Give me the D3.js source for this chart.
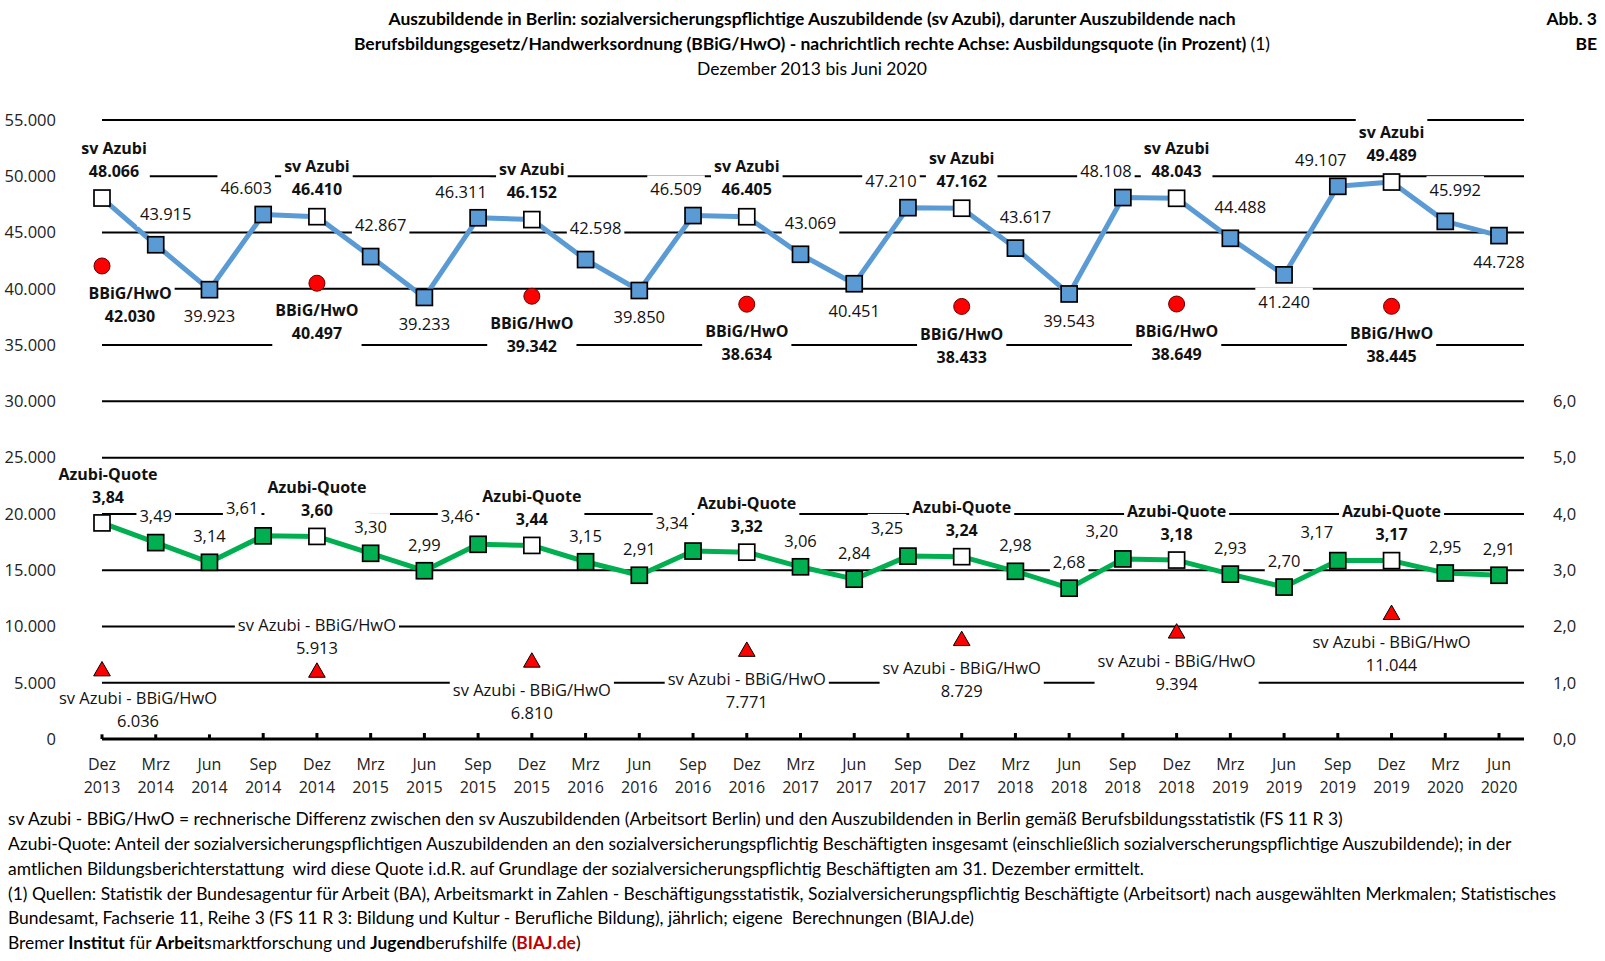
<!DOCTYPE html>
<html>
<head>
<meta charset="utf-8">
<script src="https://cdn.jsdelivr.net/npm/d3@7"></script>
<style>
  body { margin: 0; background: #fff; }
  svg { display: block; }
</style>
</head>
<body>
<svg id="chart"></svg>
<script>
// categories (quarters)
const periods = [
  "Dez 2013", "Mrz 2014", "Jun 2014", "Sep 2014", "Dez 2014", "Mrz 2015", "Jun 2015",
  "Sep 2015", "Dez 2015", "Mrz 2016", "Jun 2016", "Sep 2016", "Dez 2016", "Mrz 2017",
  "Jun 2017", "Sep 2017", "Dez 2017", "Mrz 2018", "Jun 2018", "Sep 2018", "Dez 2018",
  "Mrz 2019", "Jun 2019", "Sep 2019", "Dez 2019", "Mrz 2020", "Jun 2020"
];
// sozialversicherungspflichtige Auszubildende
const svAzubi = [
  48066, 43915, 39923, 46603, 46410, 42867, 39233, 46311, 46152, 42598, 39850, 46509,
  46405, 43069, 40451, 47210, 47162, 43617, 39543, 48108, 48043, 44488, 41240, 49107,
  49489, 45992, 44728
];
// Ausbildungsquote in Prozent (rechte Achse)
const azubiQuote = [
  3.84, 3.49, 3.14, 3.61, 3.60, 3.30, 2.99, 3.46, 3.44, 3.15, 2.91, 3.34, 3.32, 3.06,
  2.84, 3.25, 3.24, 2.98, 2.68, 3.20, 3.18, 2.93, 2.70, 3.17, 3.17, 2.95, 2.91
];
// nur Dezember: Berufsbildungsstatistik
const dezPeriods = ["Dez 2013", "Dez 2014", "Dez 2015", "Dez 2016", "Dez 2017", "Dez 2018", "Dez 2019"];
const bbigHwo = [42030, 40497, 39342, 38634, 38433, 38649, 38445];
const diffSvBbig = [6036, 5913, 6810, 7771, 8729, 9394, 11044];

const leftTicks = [0, 5000, 10000, 15000, 20000, 25000, 30000, 35000, 40000, 45000, 50000, 55000];
const rightTicks = [0, 1, 2, 3, 4, 5, 6];

const W = 1605, H = 961;
const de = d3.formatLocale({ decimal: ",", thousands: ".", grouping: [3], currency: ["", " €"] });
const fmtInt = de.format(",.0f");
const fmt1 = de.format(",.1f");
const fmt2 = de.format(",.2f");

const svg = d3.select("#chart").attr("width", W).attr("height", H);

const x = d3.scalePoint().domain(periods).range([102, 1499]);
const y = d3.scaleLinear().domain([0, 55000]).range([739, 120]);
const yR = d3.scaleLinear().domain([0, 11]).range([739, 120]);
const gridX0 = 102, gridX1 = 1524;

const labelFont = "'Open Sans', 'DejaVu Sans', sans-serif";
const textFont = "Lato, 'Liberation Sans', sans-serif";

// title
const title = svg.append("g").attr("font-family", textFont).attr("fill", "#000")
  .attr("text-anchor", "middle").attr("font-size", 17.5);
title.append("text").attr("x", 812).attr("y", 18.5).attr("dy", "0.35em").attr("font-weight", "bold")
  .text("Auszubildende in Berlin: sozialversicherungspflichtige Auszubildende (sv Azubi), darunter Auszubildende nach");
const t2 = title.append("text").attr("x", 812).attr("y", 44).attr("dy", "0.35em");
t2.append("tspan").attr("font-weight", "bold")
  .text("Berufsbildungsgesetz/Handwerksordnung (BBiG/HwO) - nachrichtlich rechte Achse: Ausbildungsquote (in Prozent) ");
t2.append("tspan").text("(1)");
title.append("text").attr("x", 812).attr("y", 68.5).attr("dy", "0.35em")
  .text("Dezember 2013 bis Juni 2020");

svg.append("text").attr("x", 1597).attr("y", 18.5).attr("dy", "0.35em").attr("text-anchor", "end")
  .attr("font-family", textFont).attr("font-weight", "bold").attr("font-size", 17.5).text("Abb. 3");
svg.append("text").attr("x", 1597).attr("y", 44).attr("dy", "0.35em").attr("text-anchor", "end")
  .attr("font-family", textFont).attr("font-weight", "bold").attr("font-size", 17.5).text("BE");

// gridlines
svg.append("g").selectAll("line").data(leftTicks.filter(d => d > 0)).join("line")
  .attr("x1", gridX0).attr("x2", gridX1)
  .attr("y1", d => y(d)).attr("y2", d => y(d))
  .attr("stroke", "#000").attr("stroke-width", 2);

// left axis labels
svg.append("g").attr("font-family", labelFont).attr("font-size", 16.5).attr("fill", "#222")
  .selectAll("text").data(leftTicks).join("text")
  .attr("x", 56).attr("y", d => y(d)).attr("dy", "0.35em").attr("text-anchor", "end")
  .text(d => fmtInt(d));

// right axis labels
svg.append("g").attr("font-family", labelFont).attr("font-size", 16.5).attr("fill", "#222")
  .selectAll("text").data(rightTicks).join("text")
  .attr("x", 1553).attr("y", d => yR(d)).attr("dy", "0.35em")
  .text(d => fmt1(d));

// x axis
const xAxis = svg.append("g");
xAxis.append("line").attr("x1", gridX0).attr("x2", gridX1).attr("y1", y(0)).attr("y2", y(0))
  .attr("stroke", "#000").attr("stroke-width", 3);
xAxis.selectAll(".tick").data(periods).join("line")
  .attr("x1", d => x(d)).attr("x2", d => x(d)).attr("y1", y(0)).attr("y2", y(0) - 6)
  .attr("stroke", "#000").attr("stroke-width", 3);
const xl = xAxis.selectAll(".xl").data(periods).join("text")
  .attr("font-family", labelFont).attr("font-size", 16).attr("fill", "#222")
  .attr("text-anchor", "middle");
xl.append("tspan").attr("x", d => x(d)).attr("y", y(0) + 25).attr("dy", "0.35em").text(d => d.split(" ")[0]);
xl.append("tspan").attr("x", d => x(d)).attr("y", y(0) + 48).attr("dy", "0.35em").text(d => d.split(" ")[1]);

// lines
const blue = "#5B9BD5", green = "#00B050", red = "#FF0000";
const svLine = d3.line().x((d, i) => x(periods[i])).y(d => y(d));
const qLine = d3.line().x((d, i) => x(periods[i])).y(d => yR(d));
svg.append("path").datum(svAzubi).attr("d", svLine).attr("fill", "none")
  .attr("stroke", blue).attr("stroke-width", 5).attr("stroke-linejoin", "round");
svg.append("path").datum(azubiQuote).attr("d", qLine).attr("fill", "none")
  .attr("stroke", green).attr("stroke-width", 5).attr("stroke-linejoin", "round");

const ms = 16;
const isDez = p => p.startsWith("Dez");
svg.append("g").selectAll("rect").data(svAzubi).join("rect")
  .attr("x", (d, i) => x(periods[i]) - ms / 2).attr("y", d => y(d) - ms / 2)
  .attr("width", ms).attr("height", ms)
  .attr("fill", (d, i) => isDez(periods[i]) ? "#fff" : blue)
  .attr("stroke", "#000").attr("stroke-width", 1.7);
svg.append("g").selectAll("rect").data(azubiQuote).join("rect")
  .attr("x", (d, i) => x(periods[i]) - ms / 2).attr("y", d => yR(d) - ms / 2)
  .attr("width", ms).attr("height", ms)
  .attr("fill", (d, i) => isDez(periods[i]) ? "#fff" : green)
  .attr("stroke", "#000").attr("stroke-width", 1.7);

// BBiG/HwO circles
svg.append("g").selectAll("circle").data(bbigHwo).join("circle")
  .attr("cx", (d, i) => x(dezPeriods[i])).attr("cy", d => y(d)).attr("r", 8)
  .attr("fill", red).attr("stroke", "#600").attr("stroke-width", 1);

// difference triangles
svg.append("g").selectAll("path").data(diffSvBbig).join("path")
  .attr("transform", (d, i) => `translate(${x(dezPeriods[i])},${y(d)})`)
  .attr("d", d3.symbol(d3.symbolTriangle, 120))
  .attr("fill", red).attr("stroke", "#000").attr("stroke-width", 1);

// data labels with white background
const labels = svg.append("g");
function addLabel(cx, cy, lines, bold) {
  const g = labels.append("g");
  const bg = g.append("rect").attr("fill", "#fff");
  const n = lines.length;
  lines.forEach((t, k) => {
    g.append("text").attr("x", cx).attr("y", cy + (k - (n - 1) / 2) * 23).attr("dy", "0.35em")
      .attr("text-anchor", "middle").attr("font-family", labelFont)
      .attr("font-size", bold ? 16 : 16.5)
      .attr("font-weight", bold ? "bold" : "normal").attr("fill", "#111").text(t);
  });
  const bb = g.node().getBBox();
  bg.attr("x", bb.x - 3).attr("y", bb.y - 2).attr("width", bb.width + 6).attr("height", bb.height + 4);
}

// offsets per month (label placement as in Excel)
const svOffset = { Mrz: [10, -31], Jun: [0, 27], Sep: [-17, -26] };
const qOffset = { Mrz: [0, -26], Jun: [0, -26], Sep: [-21, -28] };

svAzubi.forEach((v, i) => {
  const p = periods[i], m = p.split(" ")[0], px = x(p), py = y(v);
  if (m === "Dez") addLabel(px + (i === 0 ? 12 : 0), py - 38.5, ["sv Azubi", fmtInt(v)], true);
  else addLabel(px + svOffset[m][0], py + svOffset[m][1], [fmtInt(v)], false);
});
azubiQuote.forEach((v, i) => {
  const p = periods[i], m = p.split(" ")[0], px = x(p), py = yR(v);
  if (m === "Dez") addLabel(px + (i === 0 ? 6 : 0), py - 37.5, ["Azubi-Quote", fmt2(v)], true);
  else addLabel(px + qOffset[m][0], py + qOffset[m][1], [fmt2(v)], false);
});
bbigHwo.forEach((v, i) => {
  addLabel(x(dezPeriods[i]) + (i === 0 ? 28 : 0), y(v) + 39, ["BBiG/HwO", fmtInt(v)], true);
});
const diffAbove = [false, true, false, false, false, false, false];
diffSvBbig.forEach((v, i) => {
  const dy = diffAbove[i] ? -36 : 39;
  addLabel(x(dezPeriods[i]) + (i === 0 ? 36 : 0), y(v) + dy, ["sv Azubi - BBiG/HwO", fmtInt(v)], false);
});

// footnotes
const notes = svg.append("g").attr("font-family", textFont).attr("font-size", 17.45).attr("fill", "#000");
const noteLines = [
  [["sv Azubi - BBiG/HwO = rechnerische Differenz zwischen den sv Auszubildenden (Arbeitsort Berlin) und den Auszubildenden in Berlin gemäß Berufsbildungsstatistik (FS 11 R 3)"]],
  [["Azubi-Quote: Anteil der sozialversicherungspflichtigen Auszubildenden an den sozialversicherungspflichtig Beschäftigten insgesamt (einschließlich sozialverscherungspflichtige Auszubildende); in der"]],
  [["amtlichen Bildungsberichterstattung  wird diese Quote i.d.R. auf Grundlage der sozialversicherungspflichtig Beschäftigten am 31. Dezember ermittelt."]],
  [["(1) Quellen: Statistik der Bundesagentur für Arbeit (BA), Arbeitsmarkt in Zahlen - Beschäftigungsstatistik, Sozialversicherungspflichtig Beschäftigte (Arbeitsort) nach ausgewählten Merkmalen; Statistisches"]],
  [["Bundesamt, Fachserie 11, Reihe 3 (FS 11 R 3: Bildung und Kultur - Berufliche Bildung), jährlich; eigene  Berechnungen (BIAJ.de)"]],
  [["Bremer "], ["Institut", "b"], [" für "], ["Arbeit", "b"], ["smarktforschung und "], ["Jugend", "b"], ["berufshilfe ("], ["BIAJ.de", "r"], [")"]]
];
noteLines.forEach((parts, k) => {
  const t = notes.append("text").attr("x", 8).attr("y", 819 + k * 24.8).attr("dy", "0.35em")
    .attr("xml:space", "preserve").style("white-space", "pre");
  parts.forEach(([s, st]) => {
    const ts = t.append("tspan").text(s);
    if (st === "b") ts.attr("font-weight", "bold");
    if (st === "r") ts.attr("font-weight", "bold").attr("fill", "#C00000");
  });
});
</script>
</body>
</html>
